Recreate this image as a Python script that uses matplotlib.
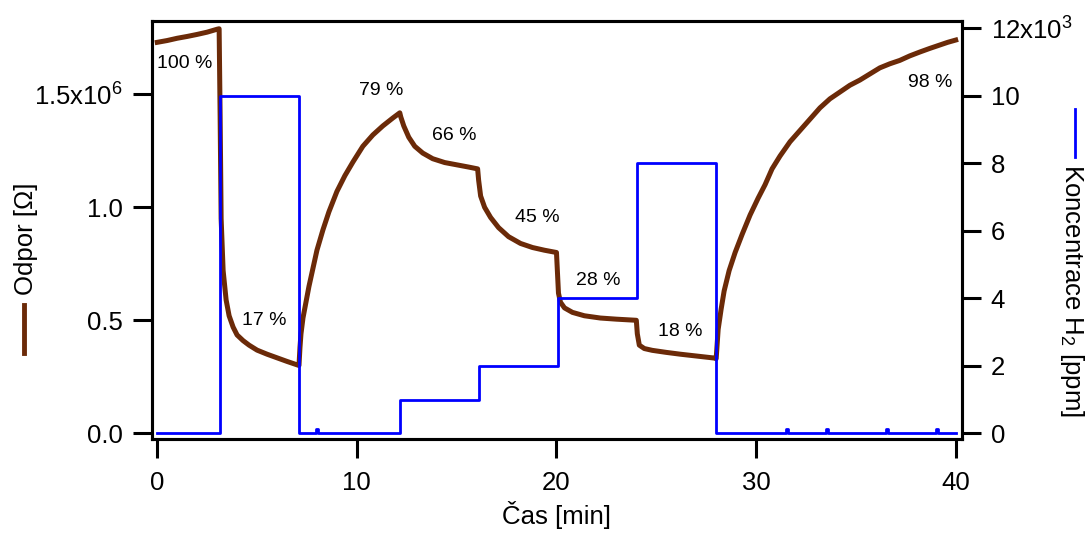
"""Resistance response of the sensor to stepped H2 concentration."""

import matplotlib

matplotlib.use("Agg")

import matplotlib.pyplot as plt
from matplotlib.lines import Line2D

plt.rcParams["font.family"] = ["Liberation Sans", "DejaVu Sans"]

# --- data --------------------------------------------------------------
# resistance (Ohm) vs time (min)
res_time = [
    0.0, 0.5, 1.0, 1.5, 2.0, 2.5, 3.0, 3.1,
    3.15, 3.2, 3.3, 3.45, 3.6, 3.8, 4.0, 4.3, 4.6, 5.0, 5.5, 6.0, 6.5, 7.0, 7.1,
    7.15, 7.2, 7.3, 7.45, 7.6, 7.8, 8.0, 8.3, 8.6, 9.0, 9.4, 9.8, 10.3, 10.8,
    11.3, 11.8, 12.15,
    12.2, 12.35, 12.6, 12.9, 13.3, 13.8, 14.4, 15.0, 15.6, 16.05,
    16.1, 16.2, 16.4, 16.7, 17.1, 17.6, 18.2, 18.8, 19.4, 20.0,
    20.1, 20.2, 20.4, 20.8, 21.4, 22.2, 23.0, 24.0,
    24.05, 24.15, 24.4, 24.8, 25.5, 26.2, 27.0, 27.9,
    28.0, 28.1, 28.25, 28.4, 28.65, 28.95, 29.3, 29.7, 30.1, 30.45, 30.8,
    31.2, 31.7, 32.2, 32.7, 33.2, 33.7, 34.2, 34.7, 35.2, 35.7, 36.2, 36.7,
    37.2, 37.7, 38.2, 38.7, 39.2, 39.6, 40.0,
]
res_ohm = [
    1.730e6, 1.738e6, 1.748e6, 1.756e6, 1.765e6, 1.775e6, 1.788e6, 1.790e6,
    1.40e6, 0.95e6, 0.72e6, 0.59e6, 0.52e6, 0.47e6, 0.435e6, 0.41e6, 0.39e6,
    0.368e6, 0.350e6, 0.334e6, 0.318e6, 0.303e6, 0.300e6,
    0.38e6, 0.44e6, 0.51e6, 0.58e6, 0.65e6, 0.73e6, 0.81e6, 0.90e6, 0.98e6,
    1.07e6, 1.14e6, 1.20e6, 1.27e6, 1.32e6, 1.36e6, 1.395e6, 1.418e6,
    1.40e6, 1.36e6, 1.31e6, 1.27e6, 1.24e6, 1.215e6, 1.198e6, 1.188e6, 1.178e6, 1.170e6,
    1.12e6, 1.05e6, 1.00e6, 0.955e6, 0.91e6, 0.87e6, 0.84e6, 0.822e6, 0.81e6, 0.80e6,
    0.62e6, 0.58e6, 0.555e6, 0.535e6, 0.52e6, 0.51e6, 0.505e6, 0.50e6,
    0.44e6, 0.39e6, 0.375e6, 0.367e6, 0.358e6, 0.350e6, 0.342e6, 0.333e6,
    0.33e6, 0.46e6, 0.55e6, 0.63e6, 0.72e6, 0.80e6, 0.88e6, 0.966e6, 1.04e6,
    1.10e6, 1.17e6, 1.227e6, 1.29e6, 1.34e6, 1.39e6, 1.44e6, 1.48e6, 1.51e6,
    1.54e6, 1.563e6, 1.59e6, 1.617e6, 1.635e6, 1.65e6, 1.67e6, 1.687e6,
    1.703e6, 1.718e6, 1.73e6, 1.74e6,
]

# H2 concentration (ppm), step levels starting at each time
conc_time = [0.0, 3.15, 7.1, 7.95, 8.05, 12.15, 16.1, 20.1, 24.05, 28.0,
             31.5, 31.6, 33.5, 33.6, 36.5, 36.6, 39.0, 39.1, 40.0]
conc_ppm = [0, 10000, 0, 120, 0, 1000, 2000, 4000, 8000, 0,
            120, 0, 120, 0, 120, 0, 120, 0, 0]

# relative response labels: text, time, resistance
label_text = ["100 %", "17 %", "79 %", "66 %", "45 %", "28 %", "18 %", "98 %"]
label_time = [1.39, 5.35, 11.21, 14.86, 19.02, 22.08, 26.19, 38.71]
label_res = [1.638e6, 0.501e6, 1.519e6, 1.316e6, 0.953e6, 0.674e6, 0.452e6, 1.554e6]

x_ticks = [0, 10, 20, 30, 40]
res_ticks = [0, 0.5e6, 1.0e6, 1.5e6]
res_tick_labels = ["0.0", "0.5", "1.0", r"1.5x10$\mathregular{^6}$"]
conc_ticks = [0, 2000, 4000, 6000, 8000, 10000, 12000]
conc_tick_labels = ["0", "2", "4", "6", "8", "10", r"12x10$\mathregular{^3}$"]

BROWN = "#6b2a08"
BLUE = "#0000ff"
FS = 18.5


def style_axis(ax):
    for spine in ax.spines.values():
        spine.set_linewidth(2.2)
    ax.tick_params(direction="out", length=14, width=2.2, labelsize=FS, pad=7)


fig = plt.figure(figsize=(10.88, 5.38), dpi=100)
ax = fig.add_axes([0.1394, 0.1835, 0.7445, 0.7769])
ax2 = ax.twinx()

ax.plot(res_time, res_ohm, color=BROWN, lw=3.6, solid_joinstyle="round", zorder=3)
ax2.plot(conc_time, conc_ppm, color=BLUE, lw=2.0, drawstyle="steps-post")

for txt, t, r in zip(label_text, label_time, label_res):
    ax.text(t, r, txt, fontsize=14, ha="center", va="center")

ax.set_xlim(-0.28, 40.30)
ax.set_ylim(-0.0265e6, 1.823e6)
ax2.set_ylim(-178, 12210)

ax.set_xticks(x_ticks)
ax.set_yticks(res_ticks, res_tick_labels)
ax2.set_yticks(conc_ticks, conc_tick_labels)
style_axis(ax)
style_axis(ax2)
ax.tick_params(axis="x", pad=9)

ax.set_xlabel("Čas [min]", fontsize=FS, labelpad=4)

# axis titles with their line keys
fig.text(25.7 / 1088, 1 - 239 / 538, "Odpor [Ω]", rotation=90, fontsize=FS,
         ha="center", va="center")
fig.add_artist(Line2D([24 / 1088, 24 / 1088], [1 - 305 / 538, 1 - 353 / 538],
                      color=BROWN, lw=3.5, transform=fig.transFigure))
fig.text(1071.6 / 1088, 1 - 291 / 538, r"Koncentrace H$\mathregular{_2}$ [ppm]",
         rotation=-90, fontsize=FS, ha="center", va="center")
fig.add_artist(Line2D([1075 / 1088, 1075 / 1088], [1 - 109 / 538, 1 - 157 / 538],
                      color=BLUE, lw=2.0, transform=fig.transFigure))

fig.savefig("out.png", dpi=100)
